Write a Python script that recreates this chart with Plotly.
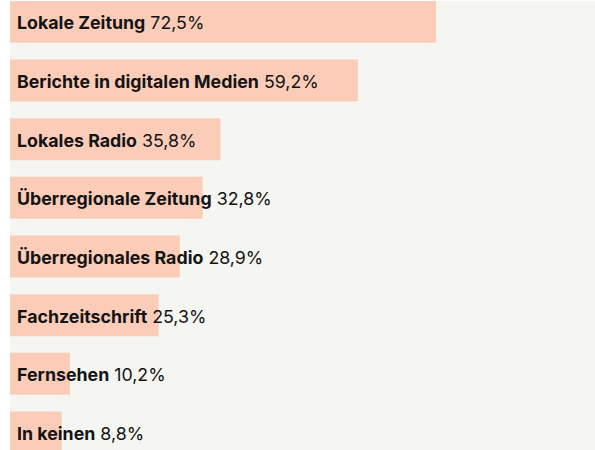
import plotly.graph_objects as go

categories = ["Lokale Zeitung", "Berichte in digitalen Medien", "Lokales Radio",
              "Überregionale Zeitung", "Überregionales Radio", "Fachzeitschrift",
              "Fernsehen", "In keinen"]
values = [72.5, 59.2, 35.8, 32.8, 28.9, 25.3, 10.2, 8.8]
value_labels = ["72,5%", "59,2%", "35,8%", "32,8%", "28,9%", "25,3%", "10,2%", "8,8%"]

pos = list(range(len(categories)))

fig = go.Figure()
fig.add_trace(go.Bar(
    x=values, y=pos, orientation="h",
    marker=dict(color="#fbcdb9", line=dict(width=0)),
    width=0.716, hoverinfo="skip",
))

for p, c, lbl in zip(pos, categories, value_labels):
    fig.add_annotation(
        x=0, y=p, xref="x", yref="y", xanchor="left", yanchor="middle",
        xshift=5, yshift=-1, showarrow=False,
        text=f"<b>{c}</b> {lbl}",
        font=dict(family="Inter", size=17.8, color="#141414"),
    )

fig.update_layout(
    width=595, height=450,
    margin=dict(l=10, r=0, t=1, b=0),
    paper_bgcolor="white", plot_bgcolor="#f5f5f1",
    showlegend=False,
    xaxis=dict(range=[0, 99.55], visible=False, showgrid=False, zeroline=False),
    yaxis=dict(range=[7.2976, -0.3554], visible=False, showgrid=False, zeroline=False),
)

fig.write_html("out.html", config={"displayModeBar": False},
               post_script="document.body.style.margin='0';")
